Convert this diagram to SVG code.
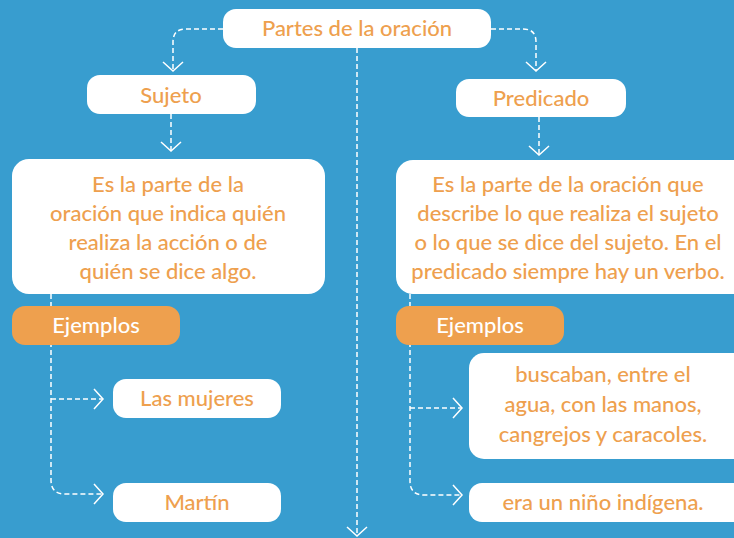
<svg xmlns="http://www.w3.org/2000/svg" width="734" height="538" viewBox="0 0 734 538">
<defs>
<style>
.bg{fill:#389dcf}
.box{fill:#ffffff}
.ej{fill:#eea04e}
.t{font-family:Lato,"Open Sans",sans-serif;font-size:22px;font-weight:500;fill:#eea04e;text-anchor:middle}
.tw{font-family:Lato,"Open Sans",sans-serif;font-size:22px;font-weight:500;fill:#ffffff;text-anchor:middle}
.c{fill:none;stroke:#ffffff;stroke-width:1.5;stroke-dasharray:5 3}
</style>
<marker id="arr" markerUnits="userSpaceOnUse" markerWidth="22" markerHeight="22" refX="10" refY="10" orient="auto" overflow="visible">
<path d="M1,0 L10,10 L1,20" fill="none" stroke="#ffffff" stroke-width="1.5"/>
</marker>
</defs>
<rect class="bg" x="0" y="0" width="734" height="538"/>
<g id="connectors">
<path class="c" d="M223,29 H186 Q173,29 173,42 V71" marker-end="url(#arr)"/>
<path class="c" d="M491,29 H523 Q536,29 536,42 V71" marker-end="url(#arr)"/>
<path class="c" d="M357,48 V536" marker-end="url(#arr)"/>
<path class="c" d="M171,114 V151" marker-end="url(#arr)"/>
<path class="c" d="M539,117 V155" marker-end="url(#arr)"/>
<path class="c" d="M51,294 V480 Q51,494 65,494 H103" marker-end="url(#arr)"/>
<path class="c" d="M51,399 H103" marker-end="url(#arr)"/>
<path class="c" d="M410,294 V481 Q410,495 424,495 H462" marker-end="url(#arr)"/>
<path class="c" d="M410,408 H462" marker-end="url(#arr)"/>
</g>
<g id="partes">
<rect class="box" x="223" y="9" width="268" height="39" rx="13"/>
<text class="t" x="357" y="36">Partes de la oración</text>
</g>
<g id="sujeto">
<rect class="box" x="87" y="75" width="169" height="39" rx="13"/>
<text class="t" x="171" y="103">Sujeto</text>
</g>
<g id="predicado">
<rect class="box" x="456" y="79" width="170" height="38" rx="13"/>
<text class="t" x="541" y="106">Predicado</text>
</g>
<g id="sujeto-def">
<rect class="box" x="12" y="159" width="313" height="135" rx="17"/>
<text class="t" x="168" y="192">Es la parte de la</text>
<text class="t" x="168" y="221">oración que indica quién</text>
<text class="t" x="168" y="250">realiza la acción o de</text>
<text class="t" x="168" y="279">quién se dice algo.</text>
</g>
<g id="predicado-def">
<rect class="box" x="396" y="160" width="356" height="134" rx="17"/>
<text class="t" x="568" y="192">Es la parte de la oración que</text>
<text class="t" x="568" y="221">describe lo que realiza el sujeto</text>
<text class="t" x="568" y="250">o lo que se dice del sujeto. En el</text>
<text class="t" x="568" y="279">predicado siempre hay un verbo.</text>
</g>
<g id="ejemplos-sujeto">
<rect class="ej" x="12" y="306" width="168" height="39" rx="13"/>
<text class="tw" x="96" y="333">Ejemplos</text>
</g>
<g id="ejemplos-predicado">
<rect class="ej" x="396" y="306" width="168" height="39" rx="13"/>
<text class="tw" x="480" y="333">Ejemplos</text>
</g>
<g id="las-mujeres">
<rect class="box" x="113" y="379" width="168" height="39" rx="13"/>
<text class="t" x="197" y="406">Las mujeres</text>
</g>
<g id="martin">
<rect class="box" x="113" y="483" width="168" height="39" rx="13"/>
<text class="t" x="197" y="510">Martín</text>
</g>
<g id="buscaban">
<rect class="box" x="469" y="353" width="280" height="106" rx="15"/>
<text class="t" x="603" y="382">buscaban, entre el</text>
<text class="t" x="603" y="412">agua, con las manos,</text>
<text class="t" x="603" y="442">cangrejos y caracoles.</text>
</g>
<g id="era-nino">
<rect class="box" x="469" y="483" width="280" height="39" rx="13"/>
<text class="t" x="603" y="510">era un niño indígena.</text>
</g>
</svg>
